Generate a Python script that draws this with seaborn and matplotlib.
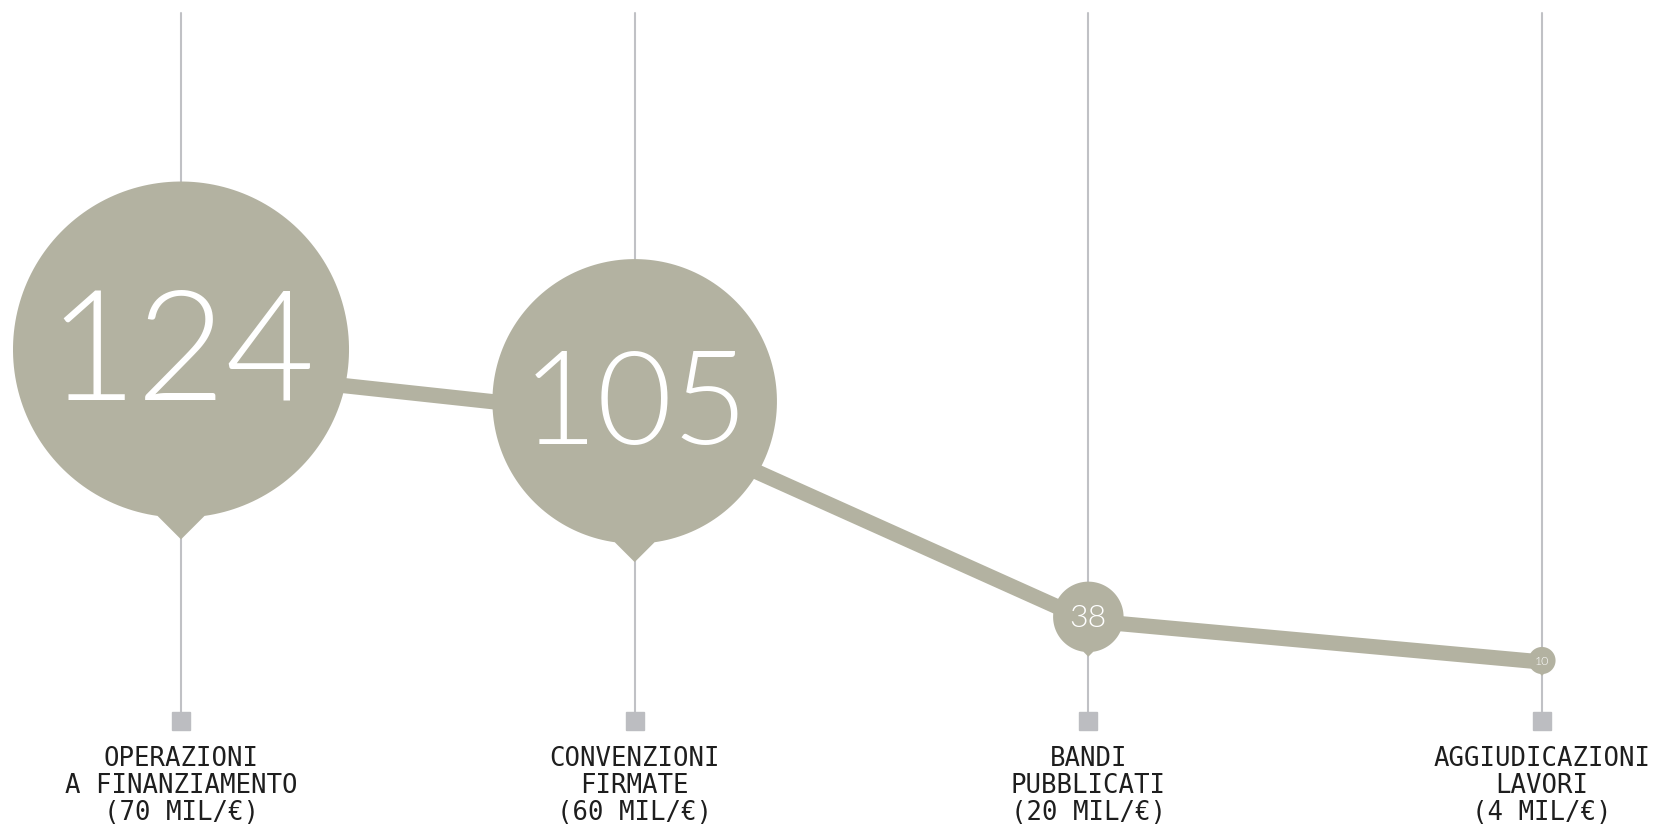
import matplotlib
matplotlib.use("Agg")
import matplotlib.pyplot as plt
import numpy as np
import pandas as pd
import seaborn as sns
from matplotlib.path import Path
from matplotlib.markers import MarkerStyle

# data read from the graphic
stage_names = ["OPERAZIONI\nA FINANZIAMENTO", "CONVENZIONI\nFIRMATE",
               "BANDI\nPUBBLICATI", "AGGIUDICAZIONI\nLAVORI"]
amounts_mil = [70, 60, 20, 4]          # milioni di euro
counts = [124, 105, 38, 10]            # number printed in each bubble
drawn_level = [124, 105, 26, 10]       # level/size the bubble is drawn at in the original

BUBBLE = "#b3b2a1"
RULE = "#c0c1c5"
DPI = 100
R_PX_PER_UNIT = 1.355                  # bubble radius (px) per unit

df = pd.DataFrame({
    "pos": np.arange(len(counts)),
    "count": counts,
    "level": drawn_level,
    "label": [f"{n}\n({a} MIL/€)" for n, a in zip(stage_names, amounts_mil)],
})
df["r_px"] = df["level"] * R_PX_PER_UNIT
df["r_pt"] = df["r_px"] * 72 / DPI


def pin_marker(lift=0.11, tip=1.13):
    """circle with a small 45 degree pointer underneath, lifted above the anchor point"""
    # where the pointer sides meet the unit circle
    xi = (2 * tip - np.sqrt(4 * tip ** 2 - 8 * (tip ** 2 - 1))) / 4
    start = np.arctan2(xi - tip, xi)
    theta = np.linspace(start, start + 2 * np.pi - 2 * (start + np.pi / 2), 200)
    verts = np.column_stack([np.cos(theta), np.sin(theta)])
    verts = np.vstack([verts, [[0, -tip]], verts[:1]])
    verts[:, 1] += lift
    codes = [Path.MOVETO] + [Path.LINETO] * (len(verts) - 2) + [Path.CLOSEPOLY]
    return Path(verts, codes), np.max(np.abs(verts))


pin_path, pin_extent = pin_marker()

sns.set_style("white")
plt.rcParams["font.family"] = ["DejaVu Sans"]

fig = plt.figure(figsize=(16.58, 8.27), dpi=DPI)
ax = fig.add_axes([0, 0.1052, 1, 0.8948])

# pixel layout: x columns at 181 .. 1542 px, y: 124 -> 368px, 10 -> 662px from top
ax.set_xlim(-0.399, 3.2557)
ax.set_ylim(-20.24, 266.7)

for p in df["pos"]:
    ax.axvline(p, ymin=0.025, ymax=0.982, color=RULE, lw=1.5, zorder=1)
ax.plot(df["pos"], np.full(len(df), 0.025), ls="none", marker="s", ms=12.5,
        color="#bcbdc1", transform=ax.get_xaxis_transform(), zorder=1)

sns.lineplot(data=df, x="pos", y="level", color=BUBBLE, lw=11,
             solid_capstyle="butt", ax=ax, zorder=2)

# bubbles: marker size (pt) so that the circle radius is r_pt
df["area"] = (2 * pin_extent * df["r_pt"]) ** 2
sns.scatterplot(data=df, x="pos", y="level", marker=MarkerStyle(pin_path),
                s=df["area"].to_numpy(), color=BUBBLE, linewidth=0,
                ax=ax, zorder=3, legend=False)

for _, row in df.iterrows():
    ax.annotate(str(row["count"]), (row["pos"], row["level"]),
                xytext=(0, -0.19 * row["r_pt"]), textcoords="offset points",
                ha="center", va="baseline", color="white",
                fontsize=0.66 * row["r_px"], family=["Lato", "DejaVu Sans"],
                fontweight=300, zorder=4)

ax.set_xticks(df["pos"])
ax.set_xticklabels(df["label"], fontfamily="DejaVu Sans Mono", fontsize=18.5,
                   color="#1e1e1e", linespacing=1.06)
ax.tick_params(axis="x", length=0, pad=4)
ax.set_yticks([])
ax.set_xlabel("")
ax.set_ylabel("")
sns.despine(ax=ax, left=True, bottom=True)

fig.savefig("out.png", dpi=DPI)
